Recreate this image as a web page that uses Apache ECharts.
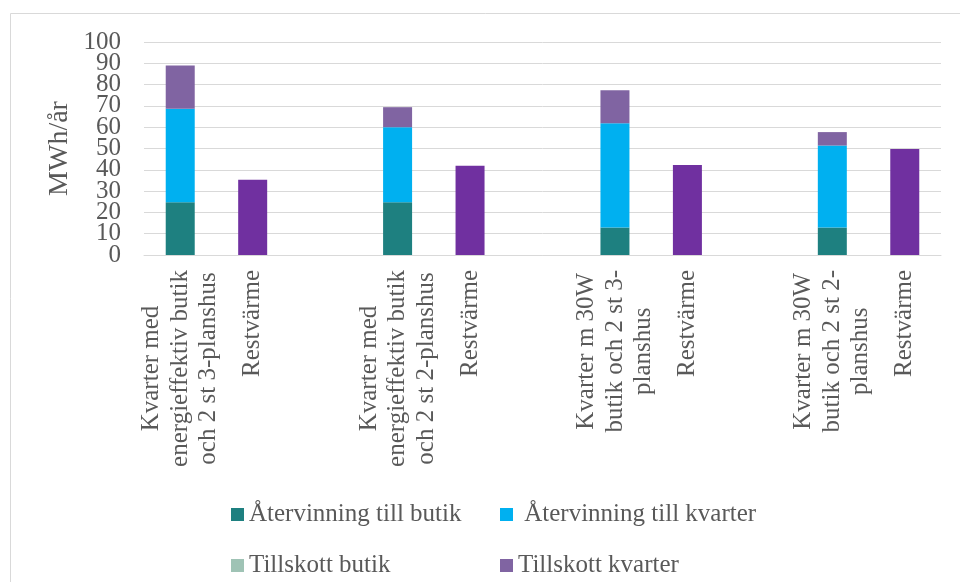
<!DOCTYPE html>
<html>
<head>
<meta charset="utf-8">
<script src="https://cdn.jsdelivr.net/npm/echarts@6/dist/echarts.min.js"></script>
<style>html,body{margin:0;padding:0;background:#fff}#c{width:960px;height:582px}</style>
</head>
<body>
<div id="c"></div>
<script>
const categories = [
  'Kvarter med\nenergieffektiv butik\noch 2 st 3-planshus', 'Restvärme', '',
  'Kvarter med\nenergieffektiv butik\noch 2 st 2-planshus', 'Restvärme', '',
  'Kvarter m 30W\nbutik och 2 st 3-\nplanshus', 'Restvärme', '',
  'Kvarter m 30W\nbutik och 2 st 2-\nplanshus', 'Restvärme'
];
const seriesNames = ['Återvinning till butik', ' Återvinning till kvarter', 'Tillskott butik', 'Tillskott kvarter', 'Restvärme'];
const atervinningButik  = [24.8, null, null, 24.8, null, null, 12.9, null, null, 12.9, null];
const atervinningKvarter = [43.9, null, null, 35.2, null, null, 48.9, null, null, 38.5, null];
const tillskottButik    = [0, null, null, 0, null, null, 0, null, null, 0, null];
const tillskottKvarter  = [20.3, null, null, 9.4, null, null, 15.6, null, null, 6.3, null];
const restvarme         = [null, 35.3, null, null, 41.9, null, null, 42.3, null, null, 49.8];
const yTicks = [0, 100, 10];

const colors = ['#1E8080', '#00B0F0', '#9FC3B5', '#8064A2', '#7030A0'];
const FONT = '"Liberation Serif", serif';
const TXT = '#595959';

const chart = echarts.init(document.getElementById('c'), null, {renderer: 'canvas'});
const data = [atervinningButik, atervinningKvarter, tillskottButik, tillskottKvarter, restvarme];

function legendAt(name, left, top) {
  return {
    data: [name], left: left, top: top, padding: 0,
    itemWidth: 13, itemHeight: 13, icon: 'rect', itemGap: 0,
    textStyle: {fontFamily: FONT, fontSize: 25, color: TXT, padding: [0, 0, 0, 0]},
    selectedMode: false
  };
}

const yLabel = {fontFamily: FONT, fontSize: 25, color: TXT, margin: 23};

chart.setOption({
  animation: false,
  color: colors,
  graphic: [{type: 'rect', shape: {x: 10.5, y: 13.5, width: 1000, height: 1000}, style: {fill: 'none', stroke: '#D9D9D9', lineWidth: 1}}],
  grid: {left: 144, right: 19, top: 42, bottom: 327, containLabel: false},
  legend: [
    legendAt(seriesNames[0], 231, 502),
    legendAt(seriesNames[1], 500, 502),
    legendAt(seriesNames[2], 231, 553),
    legendAt(seriesNames[3], 500, 553)
  ],
  xAxis: {
    type: 'category', data: categories,
    axisLine: {lineStyle: {color: '#D9D9D9', width: 1}},
    axisTick: {show: false},
    axisLabel: {
      interval: 0, rotate: 90, margin: 15,
      formatter: function (v) {
        if (!v) return '';
        return v.split('\n').map(function (s) { return '{c|' + s + '}'; }).join('\n');
      },
      rich: {c: {align: 'center', fontFamily: FONT, fontSize: 25, color: TXT, lineHeight: 28.5}}
    }
  },
  yAxis: [{
    type: 'value', min: yTicks[0], max: yTicks[1], interval: yTicks[2],
    name: 'MWh/år', nameLocation: 'middle', nameGap: 70, nameRotate: 90,
    nameTextStyle: {fontFamily: FONT, fontSize: 28, color: TXT},
    axisLine: {show: false}, axisTick: {show: false},
    axisLabel: yLabel,
    splitLine: {lineStyle: {color: '#D9D9D9', width: 1}}
  }, {
    type: 'value', position: 'left', min: yTicks[0], max: yTicks[1], interval: yTicks[1] - yTicks[0],
    axisLine: {show: false}, axisTick: {show: false}, splitLine: {show: false},
    axisLabel: yLabel
  }],
  series: seriesNames.map(function (n, i) {
    return {
      name: n, type: 'bar', stack: 'total', barWidth: 29,
      data: data[i],
      itemStyle: {color: colors[i]}
    };
  })
});
</script>
</body>
</html>
